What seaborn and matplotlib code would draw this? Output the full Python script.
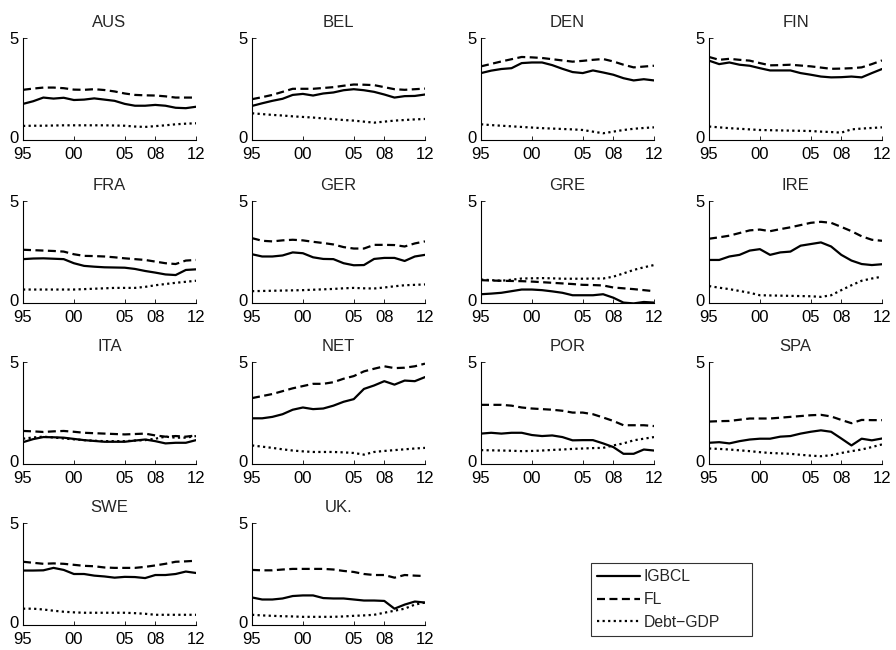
import matplotlib
matplotlib.use("Agg")
import matplotlib.pyplot as plt
import matplotlib.transforms as mtransforms
from matplotlib.lines import Line2D
import seaborn as sns
import pandas as pd

years = list(range(1995, 2013))
countries = ["AUS", "BEL", "DEN", "FIN", "FRA", "GER", "GRE", "IRE",
             "ITA", "NET", "POR", "SPA", "SWE", "UK."]
tick_years = [1995, 2000, 2005, 2008, 2012]
tick_labels = ["95", "00", "05", "08", "12"]
series_names = ["IGBCL", "FL", "Debt\u2212GDP"]

igbcl = {
    "AUS": [1.77, 1.90, 2.08, 2.03, 2.07, 1.96, 1.98, 2.04, 1.98, 1.92, 1.77, 1.68, 1.68, 1.72, 1.68, 1.58, 1.56, 1.63],
    "BEL": [1.67, 1.80, 1.92, 2.02, 2.21, 2.26, 2.18, 2.28, 2.33, 2.44, 2.49, 2.44, 2.36, 2.23, 2.08, 2.15, 2.16, 2.23],
    "DEN": [3.28, 3.40, 3.48, 3.52, 3.77, 3.80, 3.80, 3.67, 3.49, 3.33, 3.28, 3.41, 3.31, 3.20, 3.03, 2.92, 2.98, 2.92],
    "FIN": [3.89, 3.72, 3.80, 3.69, 3.64, 3.52, 3.41, 3.41, 3.41, 3.28, 3.20, 3.11, 3.07, 3.08, 3.11, 3.07, 3.28, 3.48],
    "FRA": [2.15, 2.18, 2.19, 2.17, 2.15, 1.95, 1.82, 1.78, 1.75, 1.74, 1.73, 1.67, 1.57, 1.49, 1.40, 1.37, 1.62, 1.65],
    "GER": [2.39, 2.28, 2.28, 2.33, 2.48, 2.44, 2.24, 2.16, 2.15, 1.95, 1.85, 1.86, 2.16, 2.21, 2.21, 2.06, 2.28, 2.36],
    "GRE": [0.43, 0.46, 0.50, 0.58, 0.66, 0.66, 0.63, 0.57, 0.50, 0.38, 0.38, 0.38, 0.43, 0.26, 0.02, -0.02, 0.05, 0.02],
    "IRE": [2.11, 2.11, 2.28, 2.36, 2.57, 2.64, 2.36, 2.48, 2.52, 2.81, 2.89, 2.97, 2.77, 2.36, 2.08, 1.91, 1.86, 1.90],
    "ITA": [1.07, 1.22, 1.32, 1.31, 1.29, 1.23, 1.17, 1.13, 1.09, 1.09, 1.09, 1.15, 1.20, 1.12, 1.01, 1.04, 1.04, 1.17],
    "NET": [2.24, 2.24, 2.31, 2.44, 2.66, 2.77, 2.69, 2.72, 2.86, 3.05, 3.18, 3.68, 3.85, 4.06, 3.89, 4.09, 4.06, 4.26],
    "POR": [1.49, 1.53, 1.49, 1.53, 1.53, 1.42, 1.37, 1.40, 1.32, 1.16, 1.17, 1.17, 1.01, 0.83, 0.50, 0.50, 0.71, 0.66],
    "SPA": [1.04, 1.07, 1.01, 1.12, 1.20, 1.24, 1.24, 1.34, 1.37, 1.49, 1.58, 1.65, 1.58, 1.25, 0.91, 1.24, 1.16, 1.25],
    "SWE": [2.67, 2.67, 2.68, 2.80, 2.70, 2.50, 2.50, 2.42, 2.38, 2.32, 2.36, 2.35, 2.30, 2.45, 2.45, 2.50, 2.62, 2.55],
    "UK.": [1.35, 1.25, 1.25, 1.30, 1.42, 1.45, 1.45, 1.32, 1.30, 1.30, 1.25, 1.20, 1.20, 1.18, 0.80, 1.00, 1.15, 1.10],
}

fl = {
    "AUS": [2.46, 2.52, 2.57, 2.57, 2.54, 2.47, 2.46, 2.49, 2.45, 2.38, 2.28, 2.21, 2.19, 2.18, 2.14, 2.08, 2.08, 2.08],
    "BEL": [2.00, 2.10, 2.21, 2.36, 2.51, 2.51, 2.51, 2.55, 2.59, 2.66, 2.72, 2.71, 2.69, 2.59, 2.49, 2.46, 2.49, 2.52],
    "DEN": [3.61, 3.73, 3.85, 3.96, 4.07, 4.05, 4.02, 3.96, 3.90, 3.84, 3.88, 3.93, 3.97, 3.85, 3.69, 3.56, 3.60, 3.64],
    "FIN": [4.07, 3.93, 3.98, 3.93, 3.89, 3.77, 3.66, 3.67, 3.69, 3.65, 3.61, 3.55, 3.49, 3.50, 3.52, 3.56, 3.72, 3.90],
    "FRA": [2.61, 2.59, 2.57, 2.55, 2.52, 2.39, 2.31, 2.30, 2.28, 2.24, 2.19, 2.15, 2.11, 2.03, 1.95, 1.91, 2.08, 2.11],
    "GER": [3.18, 3.05, 3.02, 3.07, 3.10, 3.07, 3.00, 2.94, 2.87, 2.74, 2.67, 2.67, 2.85, 2.85, 2.84, 2.77, 2.92, 3.02],
    "GRE": [1.12, 1.10, 1.09, 1.08, 1.07, 1.05, 1.02, 0.99, 0.96, 0.93, 0.89, 0.88, 0.86, 0.76, 0.72, 0.68, 0.63, 0.58],
    "IRE": [3.15, 3.22, 3.30, 3.43, 3.56, 3.60, 3.52, 3.62, 3.71, 3.82, 3.93, 3.98, 3.93, 3.73, 3.52, 3.27, 3.10, 3.05],
    "ITA": [1.62, 1.60, 1.57, 1.60, 1.62, 1.58, 1.53, 1.51, 1.49, 1.47, 1.45, 1.47, 1.49, 1.40, 1.34, 1.37, 1.34, 1.40],
    "NET": [3.23, 3.33, 3.43, 3.57, 3.71, 3.82, 3.93, 3.93, 4.01, 4.18, 4.31, 4.54, 4.67, 4.79, 4.70, 4.72, 4.79, 4.92],
    "POR": [2.90, 2.90, 2.90, 2.86, 2.77, 2.72, 2.69, 2.66, 2.61, 2.52, 2.52, 2.44, 2.28, 2.11, 1.90, 1.90, 1.90, 1.86],
    "SPA": [2.08, 2.10, 2.11, 2.17, 2.23, 2.23, 2.23, 2.27, 2.31, 2.35, 2.39, 2.41, 2.33, 2.16, 2.00, 2.16, 2.15, 2.15],
    "SWE": [3.10, 3.05, 3.00, 3.02, 3.00, 2.95, 2.90, 2.88, 2.82, 2.80, 2.80, 2.80, 2.85, 2.92, 3.00, 3.10, 3.12, 3.15],
    "UK.": [2.70, 2.68, 2.68, 2.72, 2.75, 2.75, 2.75, 2.75, 2.72, 2.65, 2.60, 2.50, 2.45, 2.45, 2.32, 2.45, 2.42, 2.40],
}

debt_gdp = {
    "AUS": [0.69, 0.70, 0.70, 0.71, 0.72, 0.72, 0.72, 0.72, 0.72, 0.71, 0.70, 0.66, 0.64, 0.68, 0.72, 0.77, 0.80, 0.82],
    "BEL": [1.31, 1.27, 1.23, 1.20, 1.16, 1.13, 1.10, 1.06, 1.02, 0.98, 0.95, 0.90, 0.85, 0.90, 0.95, 0.98, 1.01, 1.03],
    "DEN": [0.77, 0.73, 0.70, 0.67, 0.64, 0.61, 0.58, 0.56, 0.54, 0.52, 0.49, 0.41, 0.33, 0.41, 0.49, 0.55, 0.59, 0.62],
    "FIN": [0.66, 0.62, 0.58, 0.55, 0.52, 0.49, 0.48, 0.47, 0.46, 0.45, 0.44, 0.41, 0.39, 0.36, 0.52, 0.56, 0.59, 0.62],
    "FRA": [0.66, 0.66, 0.66, 0.66, 0.66, 0.66, 0.68, 0.70, 0.72, 0.74, 0.74, 0.74, 0.79, 0.87, 0.93, 0.99, 1.04, 1.09],
    "GER": [0.58, 0.59, 0.60, 0.61, 0.62, 0.63, 0.65, 0.67, 0.69, 0.72, 0.74, 0.72, 0.71, 0.76, 0.82, 0.87, 0.89, 0.91],
    "GRE": [1.15, 1.12, 1.09, 1.14, 1.20, 1.21, 1.22, 1.21, 1.19, 1.19, 1.19, 1.20, 1.20, 1.29, 1.45, 1.62, 1.75, 1.86],
    "IRE": [0.83, 0.75, 0.68, 0.59, 0.50, 0.38, 0.37, 0.36, 0.35, 0.34, 0.33, 0.30, 0.38, 0.63, 0.87, 1.09, 1.20, 1.29],
    "ITA": [1.24, 1.30, 1.34, 1.30, 1.25, 1.21, 1.17, 1.14, 1.12, 1.12, 1.12, 1.15, 1.17, 1.24, 1.34, 1.29, 1.29, 1.37],
    "NET": [0.91, 0.85, 0.79, 0.72, 0.66, 0.62, 0.59, 0.59, 0.59, 0.57, 0.54, 0.46, 0.59, 0.64, 0.68, 0.72, 0.76, 0.79],
    "POR": [0.68, 0.67, 0.66, 0.65, 0.63, 0.64, 0.66, 0.69, 0.71, 0.74, 0.76, 0.78, 0.79, 0.91, 1.01, 1.16, 1.24, 1.32],
    "SPA": [0.76, 0.74, 0.71, 0.67, 0.63, 0.58, 0.54, 0.52, 0.50, 0.45, 0.41, 0.38, 0.43, 0.54, 0.63, 0.71, 0.83, 0.96],
    "SWE": [0.80, 0.80, 0.76, 0.70, 0.65, 0.62, 0.60, 0.60, 0.60, 0.60, 0.60, 0.58, 0.55, 0.50, 0.50, 0.50, 0.50, 0.50],
    "UK.": [0.50, 0.47, 0.45, 0.43, 0.42, 0.40, 0.40, 0.40, 0.40, 0.42, 0.45, 0.47, 0.50, 0.60, 0.70, 0.80, 1.00, 1.10],
}

# long-form table: one row per country, year and series
records = []
for c in countries:
    for name, src in zip(series_names, (igbcl, fl, debt_gdp)):
        for y, v in zip(years, src[c]):
            records.append({"country": c, "year": y, "series": name, "value": v})
df = pd.DataFrame(records)

sns.set_style("ticks")
plt.rcParams["font.family"] = ["Liberation Sans", "DejaVu Sans"]
plt.rcParams["font.size"] = 11

fig = plt.figure(figsize=(8.96, 6.5), dpi=100)

W, H = 896.0, 650.0
col_left = [23, 252, 481, 709]
row_bottom = [140, 303, 464, 625]
ax_w, ax_h = 173, 102

dash_map = {"IGBCL": "", "FL": (3.6, 2.0), "Debt\u2212GDP": (1.0, 1.5)}

# nudge the "0" y-label up a touch so it clears the first year label
zero_lift = mtransforms.ScaledTranslation(0, 2.3 / 72, fig.dpi_scale_trans)

for i, c in enumerate(countries):
    r, k = divmod(i, 4)
    ax = fig.add_axes([col_left[k] / W, 1 - row_bottom[r] / H, ax_w / W, ax_h / H])
    sub = df[df["country"] == c]
    sns.lineplot(data=sub, x="year", y="value", style="series",
                 style_order=series_names, dashes=dash_map,
                 color="black", linewidth=1.6, legend=False, ax=ax)
    ax.set_xlim(1995, 2012)
    ax.set_ylim(0, 5)
    ax.set_xticks(tick_years)
    ax.set_xticklabels(tick_labels)
    ax.set_yticks([0, 5])
    ax.set_yticklabels(["0", "5"])
    ax.set_xlabel("")
    ax.set_ylabel("")
    ax.set_title(c, fontsize=12, pad=8)
    ax.tick_params(direction="in", length=3, width=0.6,
                   labelsize=12, colors="black")
    ax.tick_params(axis="x", pad=5)
    ax.tick_params(axis="y", pad=3)
    zero_label = ax.yaxis.get_major_ticks()[0].label1
    zero_label.set_transform(zero_label.get_transform() + zero_lift)
    for s in ("top", "right"):
        ax.spines[s].set_visible(False)
    for s in ("left", "bottom"):
        ax.spines[s].set_linewidth(0.8)
        ax.spines[s].set_color("black")
    ax.set_facecolor("white")

handles = [Line2D([], [], color="black", linewidth=1.6, linestyle="-"),
           Line2D([], [], color="black", linewidth=1.6, linestyle=(0, (3.6, 2.0))),
           Line2D([], [], color="black", linewidth=1.6, linestyle=(0, (1.0, 1.5)))]
leg = fig.legend(handles, series_names, loc="upper left", mode="expand",
                 bbox_to_anchor=(591 / W, 1 - 637 / H, 161 / W, 74 / H),
                 frameon=True, fancybox=False, edgecolor="black",
                 handlelength=2.7, handletextpad=0.25, labelspacing=0.5,
                 borderpad=0.4, borderaxespad=0.0, fontsize=11.3)
leg.get_frame().set_linewidth(0.8)

fig.savefig("out.png", dpi=100, facecolor="white")
